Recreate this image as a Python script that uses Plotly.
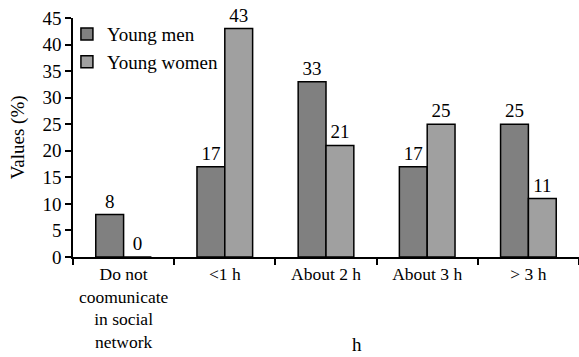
import plotly.graph_objects as go

categories = ["Do not<br>coomunicate<br>in social<br>network", "<1 h", "About 2 h", "About 3 h", "> 3 h"]
men = [8, 17, 33, 17, 25]
women = [0, 43, 21, 25, 11]

FONT = dict(family="Liberation Serif, Times New Roman, serif", size=19, color="black")
XFONT = dict(family="Liberation Serif, Times New Roman, serif", size=17.5, color="black")

fig = go.Figure()
fig.add_trace(go.Bar(
    x=categories, y=men, name="Young men",
    marker=dict(color="#808080", line=dict(color="black", width=1.5)),
    text=[str(v) for v in men], textposition="outside", cliponaxis=False,
    textfont=FONT,
))
fig.add_trace(go.Bar(
    x=categories, y=women, name="Young women",
    marker=dict(color="#a0a0a0", line=dict(color="black", width=1.5)),
    text=[str(v) for v in women], textposition="outside", cliponaxis=False,
    textfont=FONT,
))

fig.update_layout(
    width=579, height=357,
    margin=dict(l=73, r=0, t=18, b=100),
    paper_bgcolor="white", plot_bgcolor="white",
    font=FONT,
    barmode="group", bargap=0.45, bargroupgap=0,
    showlegend=True,
    legend=dict(x=-0.012, y=1.012, xanchor="left", yanchor="top",
                bgcolor="rgba(0,0,0,0)", font=FONT, itemwidth=30,
                tracegroupgap=0),
    xaxis=dict(
        showline=True, linecolor="black", linewidth=1.5,
        ticks="outside", tickson="boundaries", ticklen=6, tickcolor="black",
        tickwidth=1.5, tickfont=XFONT, tickangle=0, automargin=False,
        showgrid=False, range=[-0.5, 4.5],
    ),
    yaxis=dict(
        range=[0, 45], dtick=5, showline=True, linecolor="black", linewidth=1.5,
        ticks="outside", ticklen=6, tickcolor="black", tickwidth=1.5,
        tickfont=FONT, automargin=False, showgrid=False, zeroline=False,
    ),
    annotations=[
        dict(text="Values (%)", textangle=-90, xref="paper", yref="paper",
             x=-0.109, y=0.5, xanchor="center", yanchor="middle",
             showarrow=False, font=FONT),
        dict(text="h", xref="paper", yref="paper",
             x=0.561, y=-0.366, xanchor="center", yanchor="middle",
             showarrow=False, font=FONT),
    ],
)

fig.write_html("out.html")
